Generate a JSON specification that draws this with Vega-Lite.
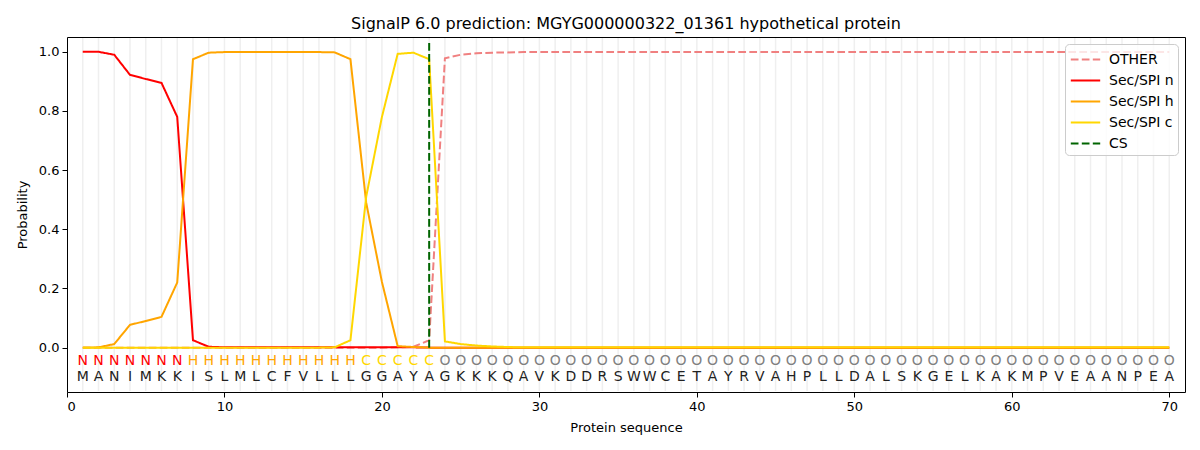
{
  "$schema": "https://vega.github.io/schema/vega-lite/v6.json",
  "width": 1118,
  "height": 355,
  "autosize": {"type": "none"},
  "padding": {"left": 67, "top": 37, "right": 15, "bottom": 58},
  "background": "white",
  "config": {
    "font": "DejaVu Sans",
    "view": {"stroke": "black", "strokeWidth": 1},
    "axis": {
      "labelFont": "DejaVu Sans",
      "labelFontSize": 13,
      "labelColor": "black",
      "titleFont": "DejaVu Sans",
      "titleFontSize": 13,
      "titleFontWeight": "normal",
      "titleColor": "black",
      "tickColor": "black",
      "tickSize": 5,
      "grid": false,
      "domain": false
    },
    "legend": {
      "labelFont": "DejaVu Sans",
      "labelFontSize": 14,
      "labelColor": "black"
    }
  },
  "title": {
    "text": "SignalP 6.0 prediction: MGYG000000322_01361 hypothetical protein",
    "font": "DejaVu Sans",
    "fontSize": 16,
    "fontWeight": "normal",
    "color": "black",
    "offset": 5
  },
  "data": {
    "values": [
      {"pos": 1, "aa": "M", "cls": "N", "other": 0, "n": 1.0, "h": 0, "c": 0},
      {"pos": 2, "aa": "A", "cls": "N", "other": 0, "n": 1.0, "h": 0.001, "c": 0},
      {"pos": 3, "aa": "N", "cls": "N", "other": 0, "n": 0.99, "h": 0.012, "c": 0},
      {"pos": 4, "aa": "I", "cls": "N", "other": 0, "n": 0.922, "h": 0.077, "c": 0},
      {"pos": 5, "aa": "M", "cls": "N", "other": 0, "n": 0.908, "h": 0.09, "c": 0},
      {"pos": 6, "aa": "K", "cls": "N", "other": 0, "n": 0.895, "h": 0.104, "c": 0},
      {"pos": 7, "aa": "K", "cls": "N", "other": 0, "n": 0.78, "h": 0.22, "c": 0},
      {"pos": 8, "aa": "I", "cls": "H", "other": 0, "n": 0.025, "h": 0.975, "c": 0},
      {"pos": 9, "aa": "S", "cls": "H", "other": 0, "n": 0.003, "h": 0.997, "c": 0},
      {"pos": 10, "aa": "L", "cls": "H", "other": 0, "n": 0.001, "h": 0.999, "c": 0},
      {"pos": 11, "aa": "M", "cls": "H", "other": 0, "n": 0.001, "h": 0.999, "c": 0},
      {"pos": 12, "aa": "L", "cls": "H", "other": 0, "n": 0.001, "h": 0.999, "c": 0},
      {"pos": 13, "aa": "C", "cls": "H", "other": 0, "n": 0.001, "h": 0.999, "c": 0},
      {"pos": 14, "aa": "F", "cls": "H", "other": 0, "n": 0.001, "h": 0.999, "c": 0},
      {"pos": 15, "aa": "V", "cls": "H", "other": 0, "n": 0.001, "h": 0.999, "c": 0},
      {"pos": 16, "aa": "L", "cls": "H", "other": 0, "n": 0.001, "h": 0.999, "c": 0},
      {"pos": 17, "aa": "L", "cls": "H", "other": 0, "n": 0.001, "h": 0.998, "c": 0.001},
      {"pos": 18, "aa": "L", "cls": "H", "other": 0, "n": 0.001, "h": 0.975, "c": 0.025},
      {"pos": 19, "aa": "G", "cls": "C", "other": 0, "n": 0.001, "h": 0.49, "c": 0.51},
      {"pos": 20, "aa": "G", "cls": "C", "other": 0, "n": 0.001, "h": 0.222, "c": 0.78},
      {"pos": 21, "aa": "A", "cls": "C", "other": 0.001, "n": 0.001, "h": 0.005, "c": 0.993},
      {"pos": 22, "aa": "Y", "cls": "C", "other": 0.003, "n": 0.001, "h": 0.002, "c": 0.997},
      {"pos": 23, "aa": "A", "cls": "C", "other": 0.025, "n": 0, "h": 0, "c": 0.975},
      {"pos": 24, "aa": "G", "cls": "O", "other": 0.978, "n": 0, "h": 0, "c": 0.021},
      {"pos": 25, "aa": "K", "cls": "O", "other": 0.99, "n": 0, "h": 0, "c": 0.012},
      {"pos": 26, "aa": "K", "cls": "O", "other": 0.995, "n": 0, "h": 0, "c": 0.007},
      {"pos": 27, "aa": "K", "cls": "O", "other": 0.997, "n": 0, "h": 0, "c": 0.004},
      {"pos": 28, "aa": "Q", "cls": "O", "other": 0.998, "n": 0, "h": 0, "c": 0.002},
      {"pos": 29, "aa": "A", "cls": "O", "other": 0.999, "n": 0, "h": 0, "c": 0.001},
      {"pos": 30, "aa": "V", "cls": "O", "other": 0.999, "n": 0, "h": 0, "c": 0.001},
      {"pos": 31, "aa": "K", "cls": "O", "other": 0.999, "n": 0, "h": 0, "c": 0.001},
      {"pos": 32, "aa": "D", "cls": "O", "other": 0.999, "n": 0, "h": 0, "c": 0.001},
      {"pos": 33, "aa": "D", "cls": "O", "other": 0.999, "n": 0, "h": 0, "c": 0.001},
      {"pos": 34, "aa": "R", "cls": "O", "other": 0.999, "n": 0, "h": 0, "c": 0.001},
      {"pos": 35, "aa": "S", "cls": "O", "other": 0.999, "n": 0, "h": 0, "c": 0.001},
      {"pos": 36, "aa": "W", "cls": "O", "other": 0.999, "n": 0, "h": 0, "c": 0.001},
      {"pos": 37, "aa": "W", "cls": "O", "other": 0.999, "n": 0, "h": 0, "c": 0.001},
      {"pos": 38, "aa": "C", "cls": "O", "other": 0.999, "n": 0, "h": 0, "c": 0.001},
      {"pos": 39, "aa": "E", "cls": "O", "other": 0.999, "n": 0, "h": 0, "c": 0.001},
      {"pos": 40, "aa": "T", "cls": "O", "other": 0.999, "n": 0, "h": 0, "c": 0.001},
      {"pos": 41, "aa": "A", "cls": "O", "other": 0.999, "n": 0, "h": 0, "c": 0.001},
      {"pos": 42, "aa": "Y", "cls": "O", "other": 0.999, "n": 0, "h": 0, "c": 0.001},
      {"pos": 43, "aa": "R", "cls": "O", "other": 0.999, "n": 0, "h": 0, "c": 0.001},
      {"pos": 44, "aa": "V", "cls": "O", "other": 0.999, "n": 0, "h": 0, "c": 0.001},
      {"pos": 45, "aa": "A", "cls": "O", "other": 0.999, "n": 0, "h": 0, "c": 0.001},
      {"pos": 46, "aa": "H", "cls": "O", "other": 0.999, "n": 0, "h": 0, "c": 0.001},
      {"pos": 47, "aa": "P", "cls": "O", "other": 0.999, "n": 0, "h": 0, "c": 0.001},
      {"pos": 48, "aa": "L", "cls": "O", "other": 0.999, "n": 0, "h": 0, "c": 0.001},
      {"pos": 49, "aa": "L", "cls": "O", "other": 0.999, "n": 0, "h": 0, "c": 0.001},
      {"pos": 50, "aa": "D", "cls": "O", "other": 0.999, "n": 0, "h": 0, "c": 0.001},
      {"pos": 51, "aa": "A", "cls": "O", "other": 0.999, "n": 0, "h": 0, "c": 0.001},
      {"pos": 52, "aa": "L", "cls": "O", "other": 0.999, "n": 0, "h": 0, "c": 0.001},
      {"pos": 53, "aa": "S", "cls": "O", "other": 0.999, "n": 0, "h": 0, "c": 0.001},
      {"pos": 54, "aa": "K", "cls": "O", "other": 0.999, "n": 0, "h": 0, "c": 0.001},
      {"pos": 55, "aa": "G", "cls": "O", "other": 0.999, "n": 0, "h": 0, "c": 0.001},
      {"pos": 56, "aa": "E", "cls": "O", "other": 0.999, "n": 0, "h": 0, "c": 0.001},
      {"pos": 57, "aa": "L", "cls": "O", "other": 0.999, "n": 0, "h": 0, "c": 0.001},
      {"pos": 58, "aa": "K", "cls": "O", "other": 0.999, "n": 0, "h": 0, "c": 0.001},
      {"pos": 59, "aa": "A", "cls": "O", "other": 0.999, "n": 0, "h": 0, "c": 0.001},
      {"pos": 60, "aa": "K", "cls": "O", "other": 0.999, "n": 0, "h": 0, "c": 0.001},
      {"pos": 61, "aa": "M", "cls": "O", "other": 0.999, "n": 0, "h": 0, "c": 0.001},
      {"pos": 62, "aa": "P", "cls": "O", "other": 0.999, "n": 0, "h": 0, "c": 0.001},
      {"pos": 63, "aa": "V", "cls": "O", "other": 0.999, "n": 0, "h": 0, "c": 0.001},
      {"pos": 64, "aa": "E", "cls": "O", "other": 0.999, "n": 0, "h": 0, "c": 0.001},
      {"pos": 65, "aa": "A", "cls": "O", "other": 0.999, "n": 0, "h": 0, "c": 0.001},
      {"pos": 66, "aa": "A", "cls": "O", "other": 0.999, "n": 0, "h": 0, "c": 0.001},
      {"pos": 67, "aa": "N", "cls": "O", "other": 0.999, "n": 0, "h": 0, "c": 0.001},
      {"pos": 68, "aa": "P", "cls": "O", "other": 0.999, "n": 0, "h": 0, "c": 0.001},
      {"pos": 69, "aa": "E", "cls": "O", "other": 0.999, "n": 0, "h": 0, "c": 0.001},
      {"pos": 70, "aa": "A", "cls": "O", "other": 0.999, "n": 0, "h": 0, "c": 0.001}
    ]
  },
  "layer": [
    {
      "mark": {"type": "rule", "color": "#efefef", "strokeWidth": 1.5},
      "encoding": {
        "x": {
          "field": "pos",
          "type": "quantitative",
          "scale": {"domain": [0, 71], "nice": false, "zero": false},
          "axis": {"values": [0, 10, 20, 30, 40, 50, 60, 70], "title": "Protein sequence", "titlePadding": 8, "labelPadding": 3}
        },
        "y": {
          "datum": -0.1465,
          "type": "quantitative",
          "scale": {"domain": [-0.15, 1.05], "nice": false, "zero": false},
          "axis": {"values": [0, 0.2, 0.4, 0.6, 0.8, 1.0], "format": ".1f", "title": "Probability", "titlePadding": 9, "labelPadding": 3}
        },
        "y2": {"datum": 1.0465}
      }
    },
    {
      "transform": [{"fold": ["other", "n", "h", "c"], "as": ["series", "prob"]}],
      "mark": {"type": "line", "strokeWidth": 2},
      "encoding": {
        "x": {"field": "pos", "type": "quantitative"},
        "y": {"field": "prob", "type": "quantitative"},
        "color": {
          "field": "series",
          "type": "nominal",
          "scale": {
            "domain": ["other", "n", "h", "c", "CS"],
            "range": ["#f08080", "#ff0000", "#ffa500", "#ffd700", "#006400"]
          },
          "legend": {
            "title": null,
            "orient": "top-right",
            "offset": 7,
            "padding": 4,
            "symbolOffset": 5,
            "strokeColor": "#cccccc",
            "cornerRadius": 4,
            "fillColor": "rgba(255,255,255,0.8)",
            "symbolType": "M-1.4,0H1.4",
            "symbolSize": 441,
            "symbolStrokeWidth": 2,
            "rowPadding": 2,
            "labelOffset": 12,
            "labelExpr": "{'other': 'OTHER', 'n': 'Sec/SPI n', 'h': 'Sec/SPI h', 'c': 'Sec/SPI c', 'CS': 'CS'}[datum.label]"
          }
        },
        "strokeDash": {
          "field": "series",
          "type": "nominal",
          "scale": {
            "domain": ["other", "n", "h", "c", "CS"],
            "range": [[7.7, 3.3], [1, 0], [1, 0], [1, 0], [7.7, 3.3]]
          }
        }
      }
    },
    {
      "mark": {"type": "rule", "strokeWidth": 2},
      "transform": [{"filter": "datum.pos === 23"}],
      "encoding": {
        "x": {"field": "pos", "type": "quantitative"},
        "y": {"datum": 0},
        "y2": {"datum": 1.04},
        "color": {"datum": "CS"},
        "strokeDash": {"datum": "CS"}
      }
    },
    {
      "mark": {"type": "text", "fontSize": 14, "font": "DejaVu Sans", "baseline": "middle"},
      "encoding": {
        "x": {"field": "pos", "type": "quantitative"},
        "y": {"datum": -0.045},
        "text": {"field": "cls"},
        "color": {
          "condition": [
            {"test": "datum.cls === 'N'", "value": "#ff0000"},
            {"test": "datum.cls === 'H'", "value": "#ffa500"},
            {"test": "datum.cls === 'C'", "value": "#ffd700"}
          ],
          "value": "#808080"
        }
      }
    },
    {
      "mark": {"type": "text", "fontSize": 14, "font": "DejaVu Sans", "baseline": "middle", "color": "#222222"},
      "encoding": {
        "x": {"field": "pos", "type": "quantitative"},
        "y": {"datum": -0.1},
        "text": {"field": "aa"}
      }
    }
  ]
}
